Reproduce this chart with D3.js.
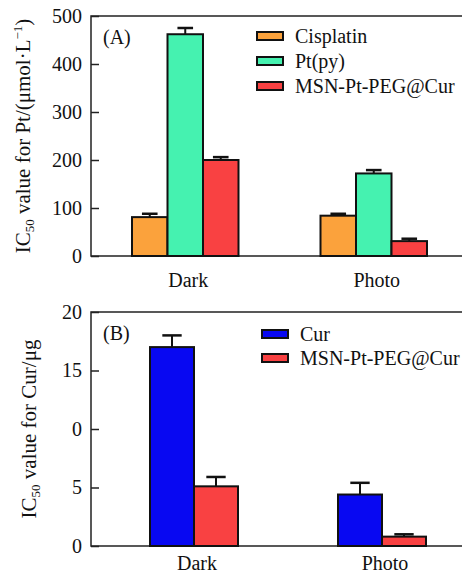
<!DOCTYPE html>
<html>
<head>
<meta charset="utf-8">
<script src="https://cdn.jsdelivr.net/npm/d3@7"></script>
<style>
  body { margin: 0; background: #fff; }
  svg text { font-family: "Liberation Serif", "Times New Roman", "DejaVu Serif", serif !important; fill: #111; }
</style>
</head>
<body>
<script>
const w = 462
const h = 576
const serif = '"Liberation Serif", "Times New Roman", "DejaVu Serif", serif'

// data
const groups = ['Dark', 'Photo']
const seriesA = ['Cisplatin', 'Pt(py)', 'MSN-Pt-PEG@Cur']
const cisplatinMean = [81, 84]
const cisplatinErr = [7, 4]
const ptpyMean = [462, 172]
const ptpyErr = [13, 7]
const msnMeanA = [200, 31]
const msnErrA = [6, 5]
const ticksA = [0, 100, 200, 300, 400, 500]

const seriesB = ['Cur', 'MSN-Pt-PEG@Cur']
const curMean = [17.0, 4.4]
const curErr = [1.0, 1.0]
const msnMeanB = [5.1, 0.8]
const msnErrB = [0.8, 0.2]
const ticksB = [0, 5, 10, 15, 20]
const tickLabelsB = ['0', '5', '0', '15', '20']

const colorsA = ['#fba23c', '#45f2b0', '#f94142']
const colorsB = ['#0808f2', '#f94142']

const svg = d3.select('body').append('svg').attr('width', w).attr('height', h)

function panel(cfg) {
  const g = svg.append('g')
  const y = d3.scaleLinear().domain(cfg.domain).range([cfg.bottom, cfg.top])
  const x = d3.scalePoint().domain(groups).range(cfg.xr).padding(0.5)
  const inner = d3.scaleBand().domain(cfg.series)
    .range([-cfg.barW * cfg.series.length / 2, cfg.barW * cfg.series.length / 2])

  // frame (right side runs off the picture)
  g.append('path')
    .attr('d', `M475,${cfg.top}H${cfg.left}V${cfg.bottom}H475`)
    .attr('fill', 'none').attr('stroke', '#222').attr('stroke-width', 1.5)

  const axis = d3.axisLeft(y).tickValues(cfg.ticks).tickSize(-8).tickPadding(9)
    .tickFormat((d, i) => cfg.tickLabels[i])
  const ax = g.append('g').attr('transform', `translate(${cfg.left},0)`).call(axis)
  ax.attr('font-family', null).attr('font-size', null)
  ax.select('.domain').remove()
  ax.selectAll('line').attr('stroke', '#222').attr('stroke-width', 1.5)
  ax.selectAll('text').style('font-size', '20px').attr('fill', '#111')

  cfg.series.forEach((s, si) => {
    const means = cfg.means[si], errs = cfg.errs[si]
    groups.forEach((grp, gi) => {
      const x0 = x(grp) + inner(s)
      const bw = inner.bandwidth()
      const cx = x0 + bw / 2
      const top = y(means[gi] + errs[gi])
      g.append('line').attr('x1', cx).attr('x2', cx).attr('y1', y(means[gi])).attr('y2', top)
        .attr('stroke', '#111').attr('stroke-width', 2)
      g.append('line').attr('x1', cx - bw * 0.22).attr('x2', cx + bw * 0.22).attr('y1', top).attr('y2', top)
        .attr('stroke', '#111').attr('stroke-width', 2.5)
      g.append('rect').attr('x', x0).attr('y', y(means[gi]))
        .attr('width', bw).attr('height', y(0) - y(means[gi]))
        .attr('fill', cfg.colors[si]).attr('stroke', '#111').attr('stroke-width', 2)
    })
  })

  groups.forEach(grp => {
    g.append('text').attr('x', x(grp) + 3).attr('y', cfg.catY).attr('text-anchor', 'middle')
      .style('font-size', '20px').text(grp)
  })

  g.append('text').attr('x', cfg.left + 12).attr('y', cfg.top + 28).style('font-size', '20px').text(cfg.tag)

  const leg = g.append('g')
  cfg.series.forEach((s, si) => {
    const ly = cfg.legY + si * cfg.legStep
    leg.append('rect').attr('x', cfg.legX).attr('y', ly - 4).attr('width', 26).attr('height', 8)
      .attr('fill', cfg.colors[si]).attr('stroke', '#111').attr('stroke-width', 2)
    leg.append('text').attr('x', cfg.legX + 38).attr('y', ly + 7).style('font-size', '20px').text(s)
  })

  const lab = g.append('text').attr('text-anchor', 'middle')
    .attr('transform', `translate(${cfg.labX},${(cfg.top + cfg.bottom) / 2}) rotate(-90)`)
    .style('font-size', '21px')
  cfg.label(lab)
}

panel({
  top: 16, bottom: 256, left: 91, xr: [91, 468], barW: 35.5,
  domain: [0, 500], ticks: ticksA, tickLabels: ticksA.map(String),
  series: seriesA, colors: colorsA,
  means: [cisplatinMean, ptpyMean, msnMeanA], errs: [cisplatinErr, ptpyErr, msnErrA],
  catY: 287, tag: '(A)', legX: 257, legY: 36, legStep: 25, labX: 30,
  label: t => {
    t.append('tspan').text('IC')
    t.append('tspan').attr('dy', 4).style('font-size', '13px').text('50')
    t.append('tspan').attr('dy', -4).text(' value for Pt/(μmol·L')
    t.append('tspan').attr('dy', -8).style('font-size', '13px').text('−1')
    t.append('tspan').attr('dy', 8).text(')')
  }
})

panel({
  top: 312, bottom: 546, left: 91, xr: [100, 476], barW: 44,
  domain: [0, 20], ticks: ticksB, tickLabels: tickLabelsB,
  series: seriesB, colors: colorsB,
  means: [curMean, msnMeanB], errs: [curErr, msnErrB],
  catY: 570, tag: '(B)', legX: 262, legY: 334, legStep: 24, labX: 36,
  label: t => {
    t.append('tspan').text('IC')
    t.append('tspan').attr('dy', 4).style('font-size', '13px').text('50')
    t.append('tspan').attr('dy', -4).text(' value for Cur/μg')
  }
})

svg.selectAll('text').style('font-family', serif)
</script>
</body>
</html>
